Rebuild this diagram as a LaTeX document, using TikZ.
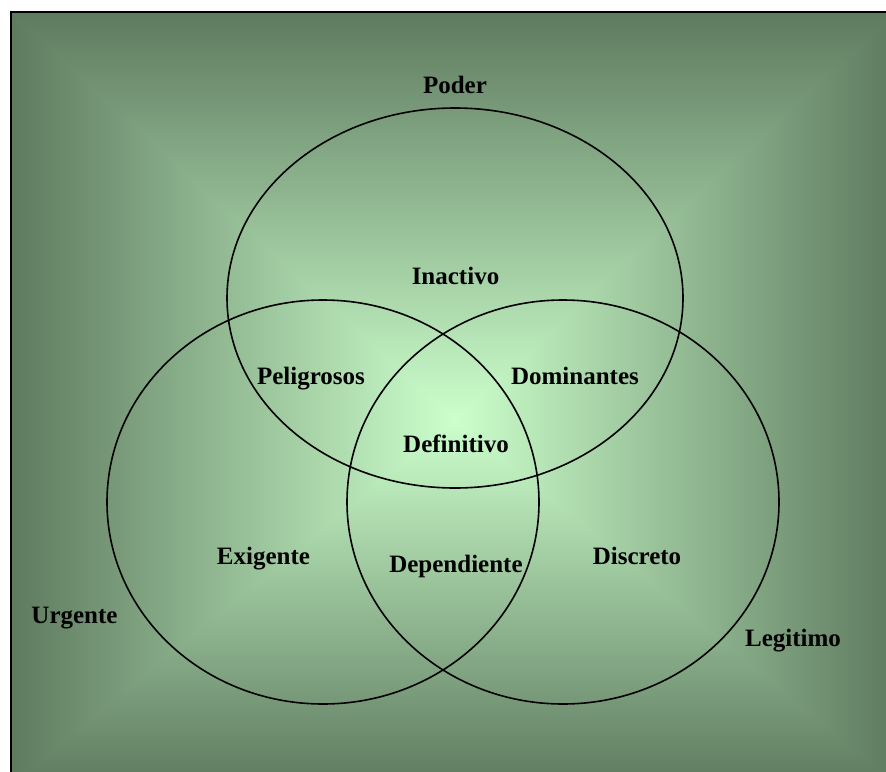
\documentclass[tikz,border=0pt]{standalone}
\usepackage{fontspec}
\setmainfont{Liberation Serif}
\usetikzlibrary{shapes.geometric}
\definecolor{edgegreen}{RGB}{94,122,95}
\definecolor{coregreen}{RGB}{204,255,204}
\begin{document}
\begin{tikzpicture}[x=1pt,y=-1pt,
  setlabel/.style={font=\fontsize{25}{30}\selectfont\bfseries, anchor=base, inner sep=0pt},
  setring/.style={draw=black, line width=1.6pt, ellipse, inner sep=0pt, outer sep=0pt}]
\useasboundingbox (0,0) rectangle (886,771);
\clip (0,0) rectangle (886,771);
\fill[white] (0,0) rectangle (886,771);
% rectangular gradient built from four shaded regions around the bright spot
\coordinate (c)  at (455,420);
\coordinate (tl) at (10.5,11.5);
\coordinate (tr) at (895,11.5);
\coordinate (bl) at (10.5,785);
\coordinate (br) at (895,785);
% top and bottom parts reach a little past the diagonals so no seam shows
\begin{scope}
  \clip (10.5,11.5) -- (895,11.5) -- (895,21.5) -- (455,430) -- (10.5,21.5) -- cycle;
  \shade[top color=edgegreen, bottom color=coregreen] (10.5,11.5) rectangle (895,420);
\end{scope}
\begin{scope}
  \clip (10.5,785) -- (895,785) -- (895,775) -- (455,410) -- (10.5,775) -- cycle;
  \shade[top color=coregreen, bottom color=edgegreen] (10.5,420) rectangle (895,785);
\end{scope}
\shade[left color=edgegreen, right color=coregreen] (tl) -- (bl) -- (c) -- cycle;
\shade[left color=coregreen, right color=edgegreen] (tr) -- (br) -- (c) -- cycle;
\draw[line width=2pt] (tl) rectangle (br);
% the three sets
\node[setring, minimum width=456pt, minimum height=380pt] (poder) at (455,298) {};
\node[setring, minimum width=432pt, minimum height=404pt] (urgente) at (323,502) {};
\node[setring, minimum width=432pt, minimum height=404pt] (legitimo) at (563,502) {};
% labels
\node[setlabel] (lpoder) at (455,93) {Poder};
\node[setlabel] (linactivo) at (455.5,284) {Inactivo};
\node[setlabel] (lpeligrosos) at (311,384) {Peligrosos};
\node[setlabel] (ldominantes) at (575,384) {Dominantes};
\node[setlabel] (ldefinitivo) at (456,452) {Definitivo};
\node[setlabel] (lexigente) at (263.5,564) {Exigente};
\node[setlabel] (ldependiente) at (456,572) {Dependiente};
\node[setlabel] (ldiscreto) at (637,564) {Discreto};
\node[setlabel] (lurgente) at (74.5,623) {Urgente};
\node[setlabel] (llegitimo) at (793,646) {Legitimo};
\end{tikzpicture}
\end{document}
